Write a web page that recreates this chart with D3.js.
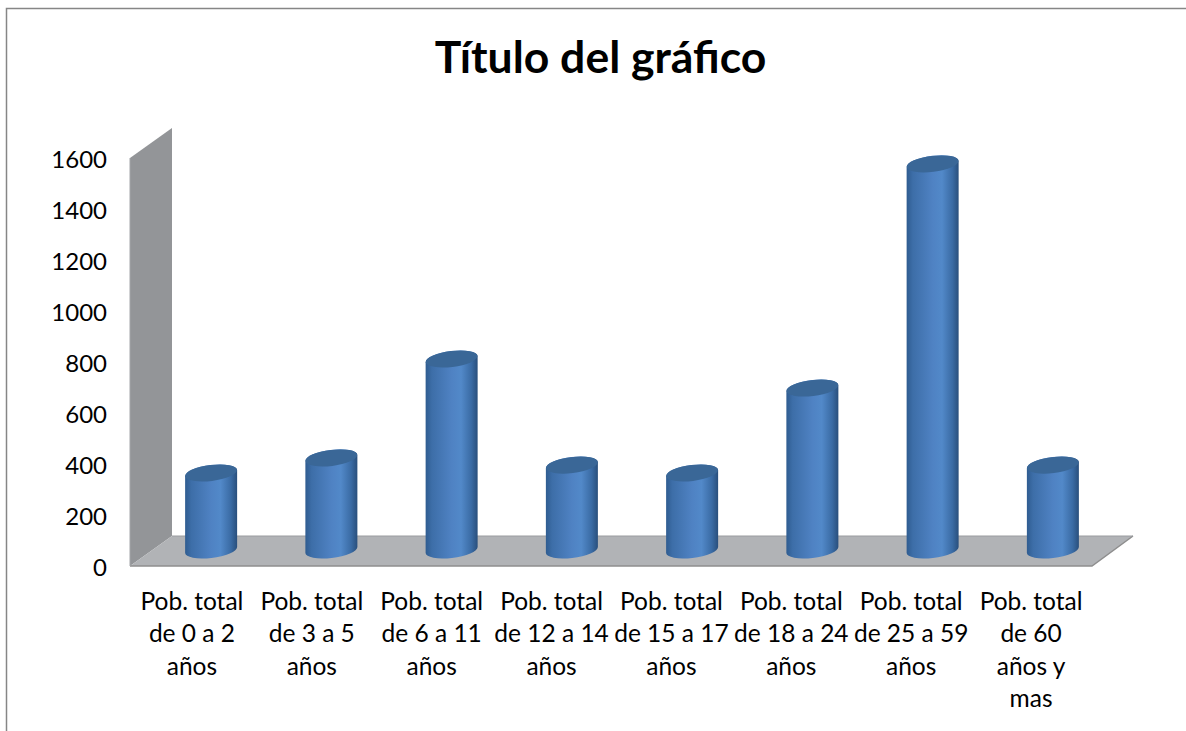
<!DOCTYPE html>
<html>
<head>
<meta charset="utf-8">
<script src="https://cdn.jsdelivr.net/npm/d3@7"></script>
<style>
  html, body { margin: 0; padding: 0; background: #fff; }
  svg { display: block; }
  text { font-family: Lato, "Open Sans", sans-serif; fill: #000; }
</style>
</head>
<body>
<svg id="chart" width="1186" height="731"></svg>
<script>
const categories = ["Pob. total|de 0 a 2|años", "Pob. total|de 3 a 5|años", "Pob. total|de 6 a 11|años",
  "Pob. total|de 12 a 14|años", "Pob. total|de 15 a 17|años", "Pob. total|de 18 a 24|años",
  "Pob. total|de 25 a 59|años", "Pob. total|de 60|años y|mas"];
const values = [302, 361, 749, 333, 302, 635, 1514, 333];
const yTicks = [0, 200, 400, 600, 800, 1000, 1200, 1400, 1600];

const svg = d3.select("#chart");

// plot box, depth is the shift of the back wall
const left = 130, right = 1092, top_ = 158, bottom = 566;
const depthX = 42, depthY = 30;

const xScale = d3.scaleBand().domain(categories).range([left, right]);
const labelScale = d3.scaleBand().domain(categories).range([left + 2, right - 1]);
const yScale = d3.scaleLinear().domain([0, 1600]).range([bottom, top_]);

// frame of the chart area, only top and left show
svg.append("path")
    .attr("d", "M6.5,731V8.5H1186")
    .attr("fill", "none")
    .attr("stroke", "#868686")
    .attr("stroke-width", 1.5);

svg.append("text")
    .attr("x", 600.5)
    .attr("y", 73)
    .attr("text-anchor", "middle")
    .style("font-size", "44.5px")
    .style("font-weight", "700")
    .text("Título del gráfico");

// wall and floor
svg.append("path")
    .attr("d", `M${left},${yScale(1600)}L${left + depthX},${yScale(1600) - depthY}V${yScale(0) - depthY}L${left},${yScale(0)}Z`)
    .attr("fill", "#939598");
svg.append("path")
    .attr("d", `M${left},${yScale(0)}L${left + depthX},${yScale(0) - depthY}H${right + depthX - 1}L${right},${yScale(0)}Z`)
    .attr("fill", "#b1b3b6");
svg.append("path")
    .attr("d", `M${left},${yScale(0)}H${right}L${right + depthX - 1},${yScale(0) - depthY}`)
    .attr("fill", "none")
    .attr("stroke", "#8e8e8e")
    .attr("stroke-width", 1.5);
svg.append("path")
    .attr("d", `M${left + depthX},${yScale(0) - depthY}H${right + depthX - 1}`)
    .attr("fill", "none")
    .attr("stroke", "#9a9c9f")
    .attr("stroke-width", 1);
svg.append("path")
    .attr("d", `M${left},${yScale(1600)}V${yScale(0)}`)
    .attr("fill", "none")
    .attr("stroke", "#a3a5a8")
    .attr("stroke-width", 1);

// y axis
const yAxisGroup = svg.append("g")
    .attr("transform", `translate(${left},0)`)
    .call(d3.axisLeft(yScale).tickValues(yTicks).tickFormat(d3.format("d")).tickSize(0).tickPadding(22));
yAxisGroup.select(".domain").remove();
yAxisGroup.selectAll("text")
    .attr("text-anchor", "end")
    .attr("x", -23)
    .attr("dy", "0.38em")
    .style("font-size", "24px")
    .style("font-family", "Lato, sans-serif");

// cylinder shading
const defs = svg.append("defs");
const grad = defs.append("linearGradient").attr("id", "cyl").attr("x1", 0).attr("x2", 1).attr("y1", 0).attr("y2", 0);
[[0, "#2f5c90"], [0.12, "#3d6ea8"], [0.5, "#4f82c3"], [0.68, "#5289c9"], [0.88, "#3a6ba4"], [1, "#294f7c"]].forEach(s => {
  grad.append("stop").attr("offset", s[0]).attr("stop-color", s[1]);
});

const rx = 26, ry = 8, tilt = -7, rise = 3;
const baseY = yScale(0) - 16;
const barShift = depthX / 2;

const bars = svg.selectAll("g.bar")
  .data(values)
  .join("g")
    .attr("class", "bar")
    .attr("transform", (d, i) => `translate(${xScale(categories[i]) + xScale.bandwidth() / 2 + barShift},0)`);

bars.append("path")
    .attr("fill", "url(#cyl)")
    .attr("d", d => {
      const t = baseY - (yScale(0) - yScale(d));
      return `M${-rx},${t + rise}L${-rx},${baseY + rise}A${rx},${ry} ${tilt} 0 0 ${rx},${baseY - rise}L${rx},${t - rise}A${rx},${ry} ${tilt} 0 0 ${-rx},${t + rise}Z`;
    });

bars.append("ellipse")
    .attr("rx", rx)
    .attr("ry", ry)
    .attr("fill", "#3a6797")
    .attr("transform", d => `translate(0,${baseY - (yScale(0) - yScale(d))}) rotate(${tilt})`);

// category labels, one tspan per line
const labels = svg.selectAll("text.cat")
  .data(categories)
  .join("text")
    .attr("class", "cat")
    .attr("text-anchor", "middle")
    .style("font-size", "24.5px");

labels.each(function (d) {
  const cx = labelScale(d) + labelScale.bandwidth() / 2;
  d3.select(this).selectAll("tspan")
    .data(d.split("|"))
    .join("tspan")
      .attr("x", cx)
      .attr("y", (l, j) => 610 + j * 32.3)
      .text(l => l);
});
</script>
</body>
</html>
